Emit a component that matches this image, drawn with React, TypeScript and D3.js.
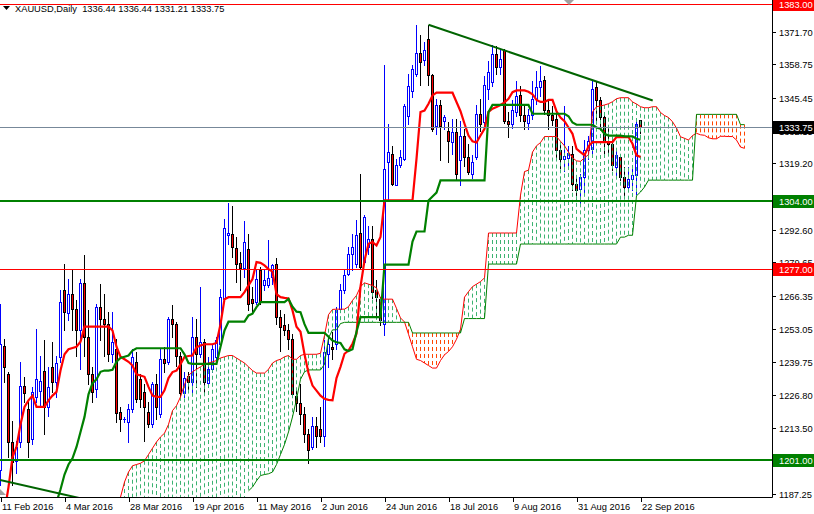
import React from "react";
import * as d3 from "d3";

// ---------- DATA ----------
const titleText = "XAUUSD,Daily  1336.44 1336.44 1331.21 1333.75";

const opens = [1197,1246.5,1235,1208,1200.5,1208,1230.5,1221,1209,1226,
 1228.5,1236.5,1222,1238,1232,1242,1268.5,1259.5,1267,1261,
 1252.5,1271.5,1250,1235,1229,1262,1257,1255,1243,1245,
 1220,1217,1216,1221,1240,1233,1228,1220,1215,1231,
 1219,1241,1240,1257,1255,1242.5,1227.5,1234.5,1232,1250,
 1243,1248,1231.5,1237,1242,1247,1265,1290.5,1291,1285.5,
 1279.5,1277.5,1285,1265,1264,1276.5,1270.5,1270.5,1274,1279,
 1258,1254.5,1252.5,1249,1226.5,1223.5,1219,1211,1206,1214.5,
 1213,1210.5,1243,1246,1247,1261,1268.5,1275,1283,1279,
 1291.5,1280,1286,1289,1268.5,1265,1255,1319.7,1323,1310.5,
 1318.4,1321,1338,1348,1355,1363.3,1360.3,1369,1354.3,1334.3,
 1342.3,1336,1332.3,1327.7,1331.7,1320.4,1330.3,1321.7,1315,1321.7,
 1339,1335.7,1349,1351.6,1363,1357.6,1364.3,1336.3,1335,1339.5,
 1346.3,1338.3,1335.5,1338.4,1345,1349.5,1352.3,1340.3,1338.3,1337,
 1324.4,1321,1321.5,1323,1311,1309,1313.7,1324.4,1325,1349.6,
 1344.3,1337.7,1328.3,1327,1317.7,1321.7,1313.7,1309.7,1313,1314.4,
 1336.44];

const highs = [1263,1249,1236,1216.5,1208.5,1240,1234,1224,1230,1253,
 1242.5,1248.5,1238,1248,1242.5,1268.5,1279,1273,1277,1264.5,
 1273,1282.5,1260.5,1238,1263,1271,1267,1260,1260,1249,
 1222,1218,1223,1245,1244,1235,1231,1224,1232,1235,
 1245,1246,1258,1262.5,1256,1244,1236,1236,1258,1257,
 1270,1249,1242,1247,1250,1269,1297,1303.5,1302,1290,
 1284,1296,1291,1270,1277,1278,1277,1288.5,1279,1281.5,
 1260.5,1259,1255,1251,1229,1231,1222,1213,1218,1218,
 1222,1248.5,1250,1252,1262,1271,1277,1286,1291,1296.5,
 1315,1298.5,1294,1294,1272.5,1266,1358.5,1335,1326,1321,
 1324.4,1343,1355,1358.3,1374.5,1370.3,1367.6,1374.5,1355,1345,
 1344.3,1338.5,1335.7,1337,1337,1336,1333,1327,1322.5,1342.5,
 1345,1354,1360,1366.3,1366,1365,1365,1339.5,1344.3,1352,
 1350,1343,1341,1352,1356,1358,1354,1344,1342,1340,
 1327,1342,1326,1326,1314,1315,1328.4,1330,1352.3,1351.6,
 1345.6,1338.3,1334.3,1329,1324.4,1323,1317.7,1317.7,1317,1336.3,
 1336.44];

const lows = [1191,1232,1202,1191,1195.5,1206,1224,1202,1207,1224,
 1222,1211,1218.5,1228,1226,1240,1252.5,1256.5,1252.5,1242.5,
 1237,1242.5,1231,1224,1226,1248.5,1242.5,1240.5,1240,1216,
 1212.5,1216,1208,1220,1224,1222,1208.5,1214,1214,1217,
 1218,1236,1239,1250,1238.5,1226,1226,1228.5,1227,1230,
 1242,1227,1230,1236,1241,1246,1264,1287,1282,1272,
 1268.5,1274,1260.5,1260,1263,1263,1268.5,1270,1271,1255,
 1244.5,1250.5,1245,1226.5,1220.5,1215,1208,1199.5,1205,1206,
 1208,1206.5,1238,1241,1245,1260,1267.5,1274.5,1276.5,1278,
 1277,1279.5,1283,1265.5,1258,1254.5,1250.5,1305,1310.5,1310.5,
 1317.7,1320.4,1335,1345.6,1354,1350.3,1358.3,1350.3,1332,1331,
 1320.4,1333,1319.7,1323,1313,1310.4,1318,1315,1313.5,1321,
 1332,1333,1345,1350,1355,1355,1335.5,1329.7,1333.5,1338,
 1336,1333,1333,1337,1343,1346,1339,1333,1334.5,1321.7,
 1317.5,1316,1318,1308.5,1304.5,1303,1307,1321,1323,1336.3,
 1334.3,1321.7,1323,1316.4,1314.4,1312.4,1305.7,1308.4,1308.5,1307,
 1331.21];

const closes = [1247,1238,1208,1200,1206,1230.5,1227.5,1208,1228,1233,
 1232.5,1222,1230,1232,1239.5,1264,1260,1267,1261,1252.5,
 1271.5,1250,1235,1228,1262,1257,1255,1243,1248,1219.5,
 1217,1217.2,1221,1242,1225,1225,1222,1215,1231,1222,
 1241,1239.5,1257,1255,1242.5,1227.5,1233.5,1232,1250,1243,
 1248,1232,1237,1245,1248.5,1266,1293.5,1291.5,1286,1279,
 1277.5,1288,1263,1263.5,1273,1264,1272.7,1273.5,1278.5,1258,
 1254,1252.5,1249,1227,1223.5,1219,1211,1204.6,1214.5,1210.5,
 1210.5,1244,1247,1245,1260.5,1268.5,1274.5,1283,1286,1290.5,
 1278,1297.7,1289,1268,1266,1256.5,1317,1323.7,1311,1318.4,
 1321.7,1342,1350,1357,1363.3,1359.6,1364.3,1354.3,1333,1342.3,
 1334.3,1337.7,1328,1331.7,1315,1330.3,1321.7,1315.7,1319.7,1339,
 1335,1350.3,1355.6,1363,1357.5,1361,1336.3,1335,1340.3,1346,
 1338.4,1336.3,1338.5,1345,1349.5,1352,1340.3,1338.5,1336.5,1324.4,
 1321,1322,1323.5,1311,1308.4,1313.7,1324.4,1328,1349,1344.3,
 1337.7,1328.3,1327,1318.4,1322.4,1313.7,1309.7,1313,1314.4,1335,
 1333.75];

// Ichimoku Tenkan-sen (red thick) per bar
const tenkan = [1175,1180,1190,1202,1206,1215,1222,1224.6,1226.5,1222,
 1222,1222,1224.6,1226.5,1228,1236.5,1243,1245,1245.5,1246,
 1248,1254,1254,1254,1254,1254,1254,1254,1252.5,1246,
 1242,1241,1240,1238.5,1235,1234.5,1234,1230,1226.5,1226,
 1226,1228.6,1233.5,1235.9,1236.5,1239,1241.9,1242.3,1242.5,1245.8,
 1246.5,1247,1247,1247,1247.5,1255,1265,1265.8,1265.8,1265.8,
 1265.8,1267.8,1270.5,1273,1279.8,1279.5,1278.5,1277,1276,1267,
 1265.8,1265.5,1265.3,1260.5,1254,1252,1243,1235.5,1230.5,1228.5,
 1226.5,1225.2,1224.8,1224.6,1233.5,1238,1243.2,1244.5,1247.2,1251.2,
 1270,1280.4,1287.1,1287.8,1286.4,1289.8,1304.4,1304.4,1304.4,1304.4,
 1304.4,1304.4,1304.4,1304.4,1321,1339.7,1340.3,1343,1346.3,1347.4,
 1347.4,1347.4,1347.4,1347.4,1343.7,1340,1335,1330.3,1328,1327.5,
 1330.3,1333,1339.7,1341,1341.7,1342.5,1343.5,1345,1347.6,1348.3,
 1348.3,1348.3,1347.8,1346.8,1344.5,1343.7,1343.7,1344.5,1344.5,1340,
 1337.5,1336,1333.5,1331,1325,1323.7,1322.4,1326,1327.7,1327.7,
 1327.7,1327.7,1327.7,1327.7,1329.7,1329.7,1329.7,1329.7,1327,1322.4,
 1321.7];

// Ichimoku Kijun-sen (green thick) per bar; null = below the visible range
const kijun = [null,null,null,null,null,null,null,null,null,null,
 null,null,1172,1178,1184,1189,1195,1199,1201.5,1206,
 1212,1218,1227,1231.5,1233,1236,1236.5,1236.5,1236.8,1240,
 1241.5,1242,1242.5,1244.5,1245.4,1245.4,1245.4,1245.4,1245.4,1245.4,
 1245.4,1245.4,1245.4,1245.4,1245.4,1245.4,1243,1239.5,1239.2,1239.2,
 1239.2,1239.2,1239.2,1239.2,1239.2,1246,1252.5,1256,1256,1256,
 1256,1256,1258.5,1259.2,1261.8,1263.8,1263.8,1263.8,1263.8,1263.8,
 1263.8,1263.8,1265.1,1262,1260,1259.8,1255,1251.5,1251.5,1251.5,
 1251.5,1251.5,1250,1248.5,1247.8,1247.5,1245,1244.3,1245,1252,
 1257.8,1257.8,1257.8,1257.8,1257.8,1257.8,1278.8,1278.8,1278.8,1278.8,
 1278.8,1278.8,1278.8,1288,1292,1292,1292,1304.4,1306,1307.5,
 1312.4,1312.4,1312.4,1312.4,1312.4,1312.4,1312.4,1312.4,1312.4,1312.4,
 1312.4,1312.4,1339.7,1342.5,1342.5,1342.5,1342.5,1342.5,1342.5,1342.5,
 1342.5,1342.5,1342.5,1339,1339,1339,1339,1339,1339,1339,
 1339,1339,1338,1335.5,1334.6,1334.6,1334.6,1334.6,1334.6,1333.5,
 1333,1331,1330.3,1330.3,1330.3,1330.3,1330,1330,1330,1329,
 1328.6];

// Senkou Span A (red thin), first value at bar 28
const spanAStart = 28;
const spanA = [1176,1181,1186,1192,1196,1198.5,1199,1199.5,1200.5,1203,
 1205.5,1208,1210,1211.5,1215,1220.5,1222.5,1226,1231,1234.5,
 1236,1237,1238,1239,1239.5,1240,1240.5,1241.5,1242,1242.5,
 1242.5,1241.5,1240.5,1239.5,1238,1236.5,1235.5,1235.5,1235.5,1237,
 1239.5,1240.5,1241,1242,1242.5,1241,1241,1242.5,1243,1243,
 1243,1243,1243.4,1250.5,1258.8,1260.9,1261,1261,1261,1262,
 1264.5,1266.5,1270,1271.5,1271,1270.4,1269.5,1265.4,1265,1265,
 1265,1261.3,1257.5,1255.9,1251,1246,1241,1240.5,1239.5,1238.5,
 1237.5,1237.5,1240.5,1242.8,1244.1,1246,1249,1253,1265.8,1268,
 1270,1271,1272,1273.5,1291.4,1291.4,1291.4,1291.4,1291.4,1291.4,
 1291.4,1291.4,1306.5,1315.9,1316.5,1323.7,1326.2,1327.5,1329.9,1329.9,
 1329.9,1329.9,1328,1326.2,1323.7,1321.4,1320.2,1320,1321.4,1322.7,
 1339.7,1341.8,1342.1,1342.5,1343,1343.8,1345,1345.4,1345.4,1345.4,
 1343.7,1342.9,1341.8,1341.4,1341.4,1341.8,1341.8,1339.5,1338.3,1337.5,
 1335.8,1333.3,1329.8,1329.2,1328.5,1330.3,1331.2,1330.6,1330.4,1329.4,
 1329,1329,1330,1330,1329.9,1329.9,1328.5,1325.7,1325.2];

// Senkou Span B (green thin), first value at bar 62 (below the chart before)
const spanBStart = 62;
const spanB = [1188.5,1190,1192.5,1194.6,1195,1195.3,1196,1199,1203,1207,
 1212,1218,1225,1233,1236,1236.75,1236.75,1236.75,1236.75,1239,
 1249.5,1252.75,1252.75,1255.25,1255.75,1255.75,1255.75,1255.75,1255.75,1255.75,
 1255.75,1255.75,1255.75,1255.75,1255.75,1255.75,1255.75,1255.75,1255.75,1255.75,
 1255.75,1251.5,1251.5,1251.5,1251.5,1251.5,1251.5,1251.5,1251.5,1251.5,
 1251.5,1251.5,1251.5,1251.5,1257.25,1257.25,1257.25,1257.25,1257.25,1257.25,
 1279,1279,1279,1279,1279,1279,1279,1279,1287,1287,
 1287,1287,1287,1287,1287,1287,1287,1287,1287,1287,
 1287,1287,1287,1287,1287,1287,1287,1287,1287,1287,
 1287,1287,1287,1289.75,1289.75,1290.5,1290.5,1306.25,1307.75,1309.75,
 1312.5,1312.5,1312.5,1312.5,1312.5,1312.5,1312.5,1312.5,1312.5,1312.5,
 1312.5,1312.5,1338.75,1338.75,1338.75,1338.75,1338.75,1338.75,1338.75,1338.75,
 1338.75,1338.75,1338.75,1334.65,1334.65];

// Drawn objects
const levelValues = [1383, 1304, 1277, 1201];
const currentPrice = 1333.75;
const trendIdx = [107, 163.05];
const trendVal = [1374.5, 1344.3];
const lowTrendIdx = [-0.125, 30];
const lowTrendVal = [1192.8, 1181.9];

// Axes
const xTickIdx = [0, 16, 32, 48, 64, 80, 96, 112, 128, 144, 160];
const xTickLabels = ["11 Feb 2016", "4 Mar 2016", "28 Mar 2016", "19 Apr 2016", "11 May 2016",
  "2 Jun 2016", "24 Jun 2016", "18 Jul 2016", "9 Aug 2016", "31 Aug 2016", "22 Sep 2016"];
const yTickValues = [1371.70, 1358.75, 1345.45, 1332.15, 1319.20, 1305.90, 1292.60, 1279.65,
  1266.35, 1253.05, 1239.75, 1226.80, 1213.50, 1200.20, 1187.25];

// ---------- CHART ----------
const W = 814, H = 514;
const PR = 772, PB = 497;
const FONT = "'Liberation Sans', Arial, sans-serif";
const FS = 9.3;

export default function App() {
  const x = d3.scaleLinear().domain([0, 193]).range([0.5, 772.5]);
  const y = d3.scaleLinear().domain([1201, 1383]).range([459.5, 3.5]);
  const snap = (v: number) => Math.round(v) + 0.5;

  const candles = opens.map((o, i) => {
    const c = closes[i], h = highs[i], l = lows[i];
    const up = c >= o;
    const cx = x(i);
    const top = snap(y(Math.max(o, c)));
    const bot = snap(y(Math.min(o, c)));
    const stroke = up ? "#0000ff" : "#000000";
    return (
      <g key={"c" + i}>
        <line x1={cx} x2={cx} y1={Math.round(y(h))} y2={Math.round(y(l)) + 1} stroke={stroke} strokeWidth={1} />
        {bot - top < 1 ? (
          <line x1={cx - 1.5} x2={cx + 1.5} y1={top} y2={top} stroke={stroke} strokeWidth={1} />
        ) : (
          <rect x={cx - 1} y={top} width={2} height={bot - top} fill={up ? "#ffffff" : "#ff0000"} stroke={stroke} strokeWidth={1} />
        )}
      </g>
    );
  });

  // cloud dotted histogram
  const cloud: JSX.Element[] = [];
  spanA.forEach((a, k) => {
    const i = k + spanAStart;
    const bIdx = i - spanBStart;
    const b = bIdx >= 0 && bIdx < spanB.length ? spanB[bIdx] : null;
    const yA = y(a);
    const yB = b == null ? PB + 5 : y(b);
    const green = b == null || a >= b;
    cloud.push(
      <line key={"k" + i} x1={x(i)} x2={x(i)} y1={Math.min(yA, yB)} y2={Math.max(yA, yB)}
        stroke={green ? "#3cb371" : "#ff4500"} strokeWidth={1} strokeDasharray="4,3" />
    );
  });

  const lineGen = d3.line<[number, number | null]>()
    .defined(d => d[1] != null)
    .x(d => x(d[0]))
    .y(d => y(d[1] as number));

  const tenkanPath = lineGen(tenkan.map((v, i) => [i, v]));
  const kijunPath = lineGen(kijun.map((v, i) => [i, v]));
  const spanAPath = lineGen(spanA.map((v, k) => [k + spanAStart, v]));
  const spanBPath = lineGen(spanB.map((v, k) => [k + spanBStart, v]));

  const levelColor = (v: number) => (v === 1304 || v === 1201 ? "#008000" : "#ff0000");
  const levelWidth = (v: number) => (v === 1304 || v === 1201 ? 2 : 1);

  return (
    <>
      <style>{`html,body{margin:0;padding:0;background:#fff;}`}</style>
      <svg width={W} height={H} style={{ display: "block", background: "#fff" }} fontFamily={FONT}>
        <defs>
          <clipPath id="plot">
            <rect x={0} y={0} width={PR} height={PB} />
          </clipPath>
        </defs>
        <g clipPath="url(#plot)">
          {candles}
          {cloud}
          <path d={spanAPath || ""} fill="none" stroke="#ff0000" strokeWidth={1} />
          <path d={spanBPath || ""} fill="none" stroke="#008000" strokeWidth={1} />
          <path d={tenkanPath || ""} fill="none" stroke="#ff0000" strokeWidth={2.2} />
          <path d={kijunPath || ""} fill="none" stroke="#008000" strokeWidth={2.2} />
          {levelValues.map(v => {
            const w = levelWidth(v);
            const yy = w === 1 ? snap(y(v)) : Math.round(y(v));
            return <line key={"lv" + v} x1={0} x2={PR} y1={yy} y2={yy} stroke={levelColor(v)} strokeWidth={w} />;
          })}
          <line x1={0} x2={PR} y1={snap(y(currentPrice))} y2={snap(y(currentPrice))} stroke="#778899" strokeWidth={1} />
          <line x1={x(trendIdx[0])} y1={y(trendVal[0])} x2={x(trendIdx[1])} y2={y(trendVal[1])} stroke="#006400" strokeWidth={2} />
          <line x1={x(lowTrendIdx[0])} y1={y(lowTrendVal[0])} x2={x(lowTrendIdx[1])} y2={y(lowTrendVal[1])} stroke="#006400" strokeWidth={2} />
        </g>

        {/* markers */}
        <polygon points="564,0 574,0 569,5" fill="#a0a0a0" />
        <polygon points="0,489 6,495 0,495" fill="#a0a0a0" />

        {/* title */}
        <polygon points="3,6 10,6 6.5,10" fill="#000" />
        <text x={15} y={11.5} fontSize={FS} fill="#000" style={{ whiteSpace: "pre" }}>{titleText}</text>

        {/* axes */}
        <line x1={PR + 0.5} x2={PR + 0.5} y1={0} y2={PB + 0.5} stroke="#000" />
        <line x1={0} x2={PR + 0.5} y1={PB + 0.5} y2={PB + 0.5} stroke="#000" />
        {yTickValues.map(v => {
          const yy = snap(y(v));
          return (
            <g key={"yt" + v}>
              <line x1={PR} x2={PR + 4} y1={yy} y2={yy} stroke="#000" />
              <text x={779} y={yy} dy="0.35em" fontSize={FS} fill="#000">{v.toFixed(2)}</text>
            </g>
          );
        })}
        {xTickIdx.map((idx, k) => {
          const xx = Math.round(x(idx)) + 0.5;
          return (
            <g key={"xt" + idx}>
              <line x1={xx} x2={xx} y1={PB} y2={PB + 5} stroke="#000" />
              <text x={xx + 0.5} y={509.5} fontSize={FS} fill="#000">{xTickLabels[k]}</text>
            </g>
          );
        })}

        {/* price labels */}
        {[...levelValues, currentPrice].map(v => {
          const yy = y(v);
          const bg = v === currentPrice ? "#000000" : levelColor(v);
          return (
            <g key={"pl" + v}>
              <rect x={773} y={Math.round(yy) - 6} width={41} height={13} fill={bg} />
              <text x={779} y={Math.round(yy) + 0.5} dy="0.35em" fontSize={FS} fill="#fff">{v.toFixed(2)}</text>
            </g>
          );
        })}
      </svg>
    </>
  );
}
